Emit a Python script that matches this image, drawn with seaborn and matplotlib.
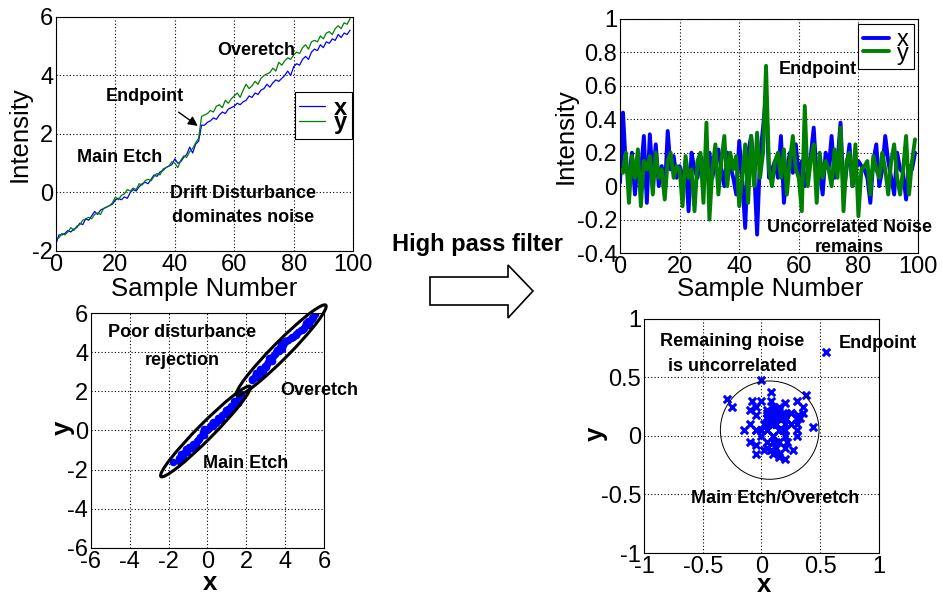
import numpy as np
import pandas as pd
import matplotlib
matplotlib.use('Agg')
import matplotlib.pyplot as plt
import seaborn as sns
from matplotlib.patches import Ellipse, Circle, Polygon

# Данные: сырые сигналы (верхний левый график)
samples = list(range(100))
raw_x = [-1.75, -1.45, -1.45, -1.40, -1.30, -1.35, -1.25, -1.20, -1.05, -1.10,
         -0.90, -0.95, -0.80, -0.65, -0.75, -0.60, -0.55, -0.50, -0.45, -0.40,
         -0.25, -0.20, -0.25, -0.15, -0.20, 0.00, 0.10, 0.05, 0.20, 0.30,
         0.35, 0.30, 0.45, 0.60, 0.55, 0.70, 0.75, 0.85, 0.90, 0.95,
         1.15, 1.00, 1.05, 1.20, 1.30, 1.55, 1.35, 1.65, 1.75, 2.30,
         2.30, 2.40, 2.45, 2.55, 2.50, 2.65, 2.75, 2.70, 2.85, 2.90,
         2.95, 3.05, 3.00, 3.10, 3.15, 3.30, 3.25, 3.40, 3.35, 3.50,
         3.55, 3.70, 3.60, 3.75, 3.85, 3.80, 3.90, 4.00, 4.15, 4.00,
         4.30, 4.40, 4.35, 4.55, 4.65, 4.55, 4.80, 4.90, 4.85, 5.05,
         4.95, 5.15, 5.10, 5.25, 5.20, 5.40, 5.30, 5.45, 5.40, 5.55]
raw_y = [-1.60, -1.55, -1.40, -1.45, -1.35, -1.20, -1.30, -1.15, -1.10, -0.95,
         -0.90, -0.85, -0.90, -0.75, -0.70, -0.75, -0.55, -0.50, -0.45, -0.35,
         -0.15, -0.25, -0.10, -0.05, 0.10, 0.05, 0.15, 0.10, 0.30, 0.25,
         0.40, 0.45, 0.40, 0.55, 0.65, 0.60, 0.80, 0.85, 0.90, 1.05,
         1.00, 0.85, 1.10, 1.25, 1.20, 1.40, 1.50, 1.70, 1.85, 2.60,
         2.65, 2.70, 2.80, 2.75, 2.95, 3.00, 2.90, 3.15, 3.05, 3.20,
         3.30, 3.40, 3.25, 3.50, 3.70, 3.55, 3.65, 3.80, 3.70, 3.90,
         4.00, 4.05, 4.10, 4.25, 4.15, 4.45, 4.35, 4.50, 4.60, 4.55,
         4.70, 4.80, 4.75, 4.95, 5.05, 4.90, 5.15, 5.20, 5.15, 5.35,
         5.25, 5.45, 5.50, 5.40, 5.60, 5.70, 5.60, 5.80, 5.75, 5.95]

# Данные после фильтра высоких частот (верхний правый график)
hp_x = [0.02, 0.44, 0.10, 0.05, 0.20, -0.05, 0.15, 0.08, 0.30, -0.10,
        0.31, 0.05, 0.25, 0.00, 0.12, -0.05, 0.33, 0.10, 0.18, 0.05,
        0.12, 0.02, 0.15, -0.15, 0.20, 0.10, 0.05, 0.18, 0.12, 0.08,
        0.20, 0.05, 0.15, 0.22, 0.10, 0.00, 0.20, 0.12, 0.05, -0.05,
        0.27, 0.05, -0.25, 0.20, 0.30, 0.10, -0.29, 0.18, 0.35, 0.55,
        0.05, 0.10, 0.15, 0.05, 0.30, -0.10, 0.10, 0.20, 0.08, 0.25,
        0.05, 0.15, 0.00, 0.10, 0.18, 0.35, 0.05, 0.10, -0.05, 0.20,
        0.10, 0.30, 0.05, 0.15, 0.38, -0.05, 0.10, 0.25, 0.00, 0.10,
        0.15, 0.12, 0.10, 0.05, -0.10, 0.15, 0.25, 0.00, 0.10, 0.30,
        0.15, 0.05, -0.05, 0.20, 0.10, 0.08, -0.08, 0.12, 0.10, 0.20]
hp_y = [0.10, 0.08, 0.20, -0.10, 0.18, 0.05, 0.22, -0.12, 0.15, 0.10,
        0.18, -0.05, 0.20, 0.05, 0.10, -0.08, 0.15, 0.20, 0.05, 0.12,
        0.10, -0.12, 0.18, 0.05, 0.10, -0.15, 0.15, 0.20, -0.10, 0.38,
        -0.20, 0.10, 0.25, -0.05, 0.15, 0.30, 0.00, 0.20, 0.10, 0.18,
        -0.12, 0.05, 0.25, -0.10, 0.30, 0.00, 0.32, 0.05, 0.20, 0.72,
        0.10, 0.00, 0.15, 0.20, 0.05, 0.22, -0.05, 0.15, 0.30, 0.10,
        0.05, -0.15, 0.48, 0.00, 0.15, 0.25, -0.10, 0.20, 0.05, 0.15,
        0.10, 0.00, 0.22, 0.05, 0.35, -0.15, 0.15, 0.20, 0.00, 0.25,
        -0.18, 0.10, 0.12, 0.15, -0.05, 0.18, 0.10, 0.05, 0.20, 0.10,
        -0.05, 0.15, 0.25, 0.05, -0.05, 0.10, 0.30, -0.05, 0.15, 0.28]

# Эллипсы доверия: центр, ширина, высота, угол
ell_centers = [(-0.1, -0.05), (3.8, 4.1)]
ell_widths = [6.5, 6.5]
ell_heights = [0.8, 0.85]
ell_angles = [45, 45]

circle_center = (0.07, 0.05)
circle_radius = 0.42

sns.set_style('white')
plt.rcParams['font.family'] = ['Liberation Sans', 'DejaVu Sans']
plt.rcParams['axes.unicode_minus'] = False
for k in ['text.color', 'axes.labelcolor', 'xtick.color', 'ytick.color', 'xtick.labelcolor', 'ytick.labelcolor']:
    plt.rcParams[k] = 'black'

TICK = 17
LAB = 18.5
ANN = 13

fig = plt.figure(figsize=(9.43, 5.97), dpi=100)


def style_axes(ax, xticks, yticks):
    ax.set_xticks(xticks)
    ax.set_yticks(yticks)
    ax.set_xticklabels([f'{v:g}' for v in xticks], fontsize=TICK)
    ax.set_yticklabels([f'{v:g}' for v in yticks], fontsize=TICK)
    ax.set_xlim(xticks[0], xticks[-1])
    ax.set_ylim(yticks[0], yticks[-1])
    ax.grid(True, color='black', linestyle=(0, (1, 2)), linewidth=0.8)
    ax.tick_params(direction='in', length=3, pad=2, color='black', labelcolor='black')
    for s in ax.spines.values():
        s.set_visible(True)
        s.set_color('black')
        s.set_linewidth(0.8)


def bold(ax, x, y, txt, **kw):
    ax.text(x, y, txt, fontsize=ANN, fontweight='bold', ha='center', va='center',
            clip_on=False, **kw)


def small_legend(ax, anchor, weight):
    leg = ax.legend(loc='upper right', bbox_to_anchor=anchor,
                    prop={'size': 17, 'weight': weight},
                    frameon=True, fancybox=False, edgecolor='black', framealpha=1,
                    handlelength=1.1, labelspacing=-0.35, borderpad=0.2,
                    handletextpad=0.35, borderaxespad=0)
    leg.get_frame().set_linewidth(0.8)
    return leg


# Верхний левый: сырые сигналы
ax1 = fig.add_axes([0.0594, 0.5796, 0.315, 0.392])
df_raw = pd.DataFrame({'n': samples, 'x': raw_x, 'y': raw_y})
sns.lineplot(data=df_raw, x='n', y='x', ax=ax1, color='blue', lw=0.9, label='x')
sns.lineplot(data=df_raw, x='n', y='y', ax=ax1, color='green', lw=0.9, label='y')
style_axes(ax1, [0, 20, 40, 60, 80, 100], [-2, 0, 2, 4, 6])
ax1.set_xlabel('Sample Number', fontsize=LAB)
ax1.set_ylabel('Intensity', fontsize=LAB)
ax1.xaxis.set_label_coords(0.50, -0.112)
ax1.yaxis.set_label_coords(-0.081, 0.50)
small_legend(ax1, (0.995, 0.68), 'bold')
bold(ax1, 67.3, 4.84, 'Overetch')
bold(ax1, 30, 3.27, 'Endpoint')
bold(ax1, 21.5, 1.18, 'Main Etch')
bold(ax1, 63, -0.02, 'Drift Disturbance')
bold(ax1, 63, -0.87, 'dominates noise')
ax1.annotate('', xy=(48.5, 2.22), xytext=(40.5, 2.8),
             arrowprops=dict(arrowstyle='-|>', color='black', lw=1, mutation_scale=14))

# Верхний правый: после фильтра
ax2 = fig.add_axes([0.6575, 0.5762, 0.316, 0.392])
df_hp = pd.DataFrame({'n': samples, 'x': hp_x, 'y': hp_y})
sns.lineplot(data=df_hp, x='n', y='x', ax=ax2, color='blue', lw=2.8, label='x')
sns.lineplot(data=df_hp, x='n', y='y', ax=ax2, color='green', lw=2.8, label='y')
style_axes(ax2, [0, 20, 40, 60, 80, 100], [-0.4, -0.2, 0, 0.2, 0.4, 0.6, 0.8, 1])
ax2.set_xlabel('Sample Number', fontsize=LAB)
ax2.set_ylabel('Intensity', fontsize=LAB)
ax2.xaxis.set_label_coords(0.503, -0.102)
ax2.yaxis.set_label_coords(-0.141, 0.50)
small_legend(ax2, (0.985, 0.978), 'normal')
bold(ax2, 66.4, 0.695, 'Endpoint')
bold(ax2, 77, -0.245, 'Uncorrelated Noise')
bold(ax2, 77, -0.37, 'remains')

# Нижний левый: x против y (сырые)
ax3 = fig.add_axes([0.0965, 0.0821, 0.247, 0.3936])
sns.scatterplot(x=raw_x, y=raw_y, ax=ax3, color='blue', s=30, edgecolor='blue', linewidth=0)
for c, w, h, a in zip(ell_centers, ell_widths, ell_heights, ell_angles):
    ax3.add_patch(Ellipse(c, w, h, angle=a, fill=False, edgecolor='black', lw=2.2, clip_on=False))
style_axes(ax3, [-6, -4, -2, 0, 2, 4, 6], [-6, -4, -2, 0, 2, 4, 6])
ax3.set_xlabel('x', fontsize=LAB, fontweight='bold')
ax3.set_ylabel('y', fontsize=LAB, fontweight='bold')
ax3.xaxis.set_label_coords(0.51, -0.099)
ax3.yaxis.set_label_coords(-0.069, 0.51)
bold(ax3, -1.31, 4.98, 'Poor disturbance')
bold(ax3, -1.31, 3.6, 'rejection')
bold(ax3, 5.74, 2.02, 'Overetch')
bold(ax3, 1.98, -1.66, 'Main Etch')

# Нижний правый: x против y (после фильтра)
ax4 = fig.add_axes([0.683, 0.0737, 0.249, 0.392])
sns.scatterplot(x=hp_x, y=hp_y, ax=ax4, color='blue', marker='x', s=28, linewidth=2.2)
ax4.add_patch(Circle(circle_center, circle_radius, fill=False, edgecolor='black', lw=0.7))
style_axes(ax4, [-1, -0.5, 0, 0.5, 1], [-1, -0.5, 0, 0.5, 1])
ax4.set_xlabel('x', fontsize=LAB, fontweight='bold')
ax4.set_ylabel('y', fontsize=LAB, fontweight='bold')
ax4.xaxis.set_label_coords(0.51, -0.086)
ax4.yaxis.set_label_coords(-0.155, 0.51)
bold(ax4, -0.25, 0.81, 'Remaining noise')
bold(ax4, -0.25, 0.59, 'is uncorrelated')
bold(ax4, 0.99, 0.79, 'Endpoint')
bold(ax4, 0.115, -0.53, 'Main Etch/Overetch')

# Стрелка "High pass filter"
W, H = 943, 597
fig.text(477 / W, 1 - 245 / H, 'High pass filter', fontsize=17, fontweight='heavy',
         ha='center', va='center')
arrow_px = [(430, 277), (508, 277), (508, 265), (533, 291), (508, 318), (508, 305), (430, 305)]
fig.patches.append(Polygon([(x / W, 1 - y / H) for x, y in arrow_px], closed=True,
                           transform=fig.transFigure, facecolor='white',
                           edgecolor='black', lw=1.2))

fig.savefig('out.png', dpi=100)
